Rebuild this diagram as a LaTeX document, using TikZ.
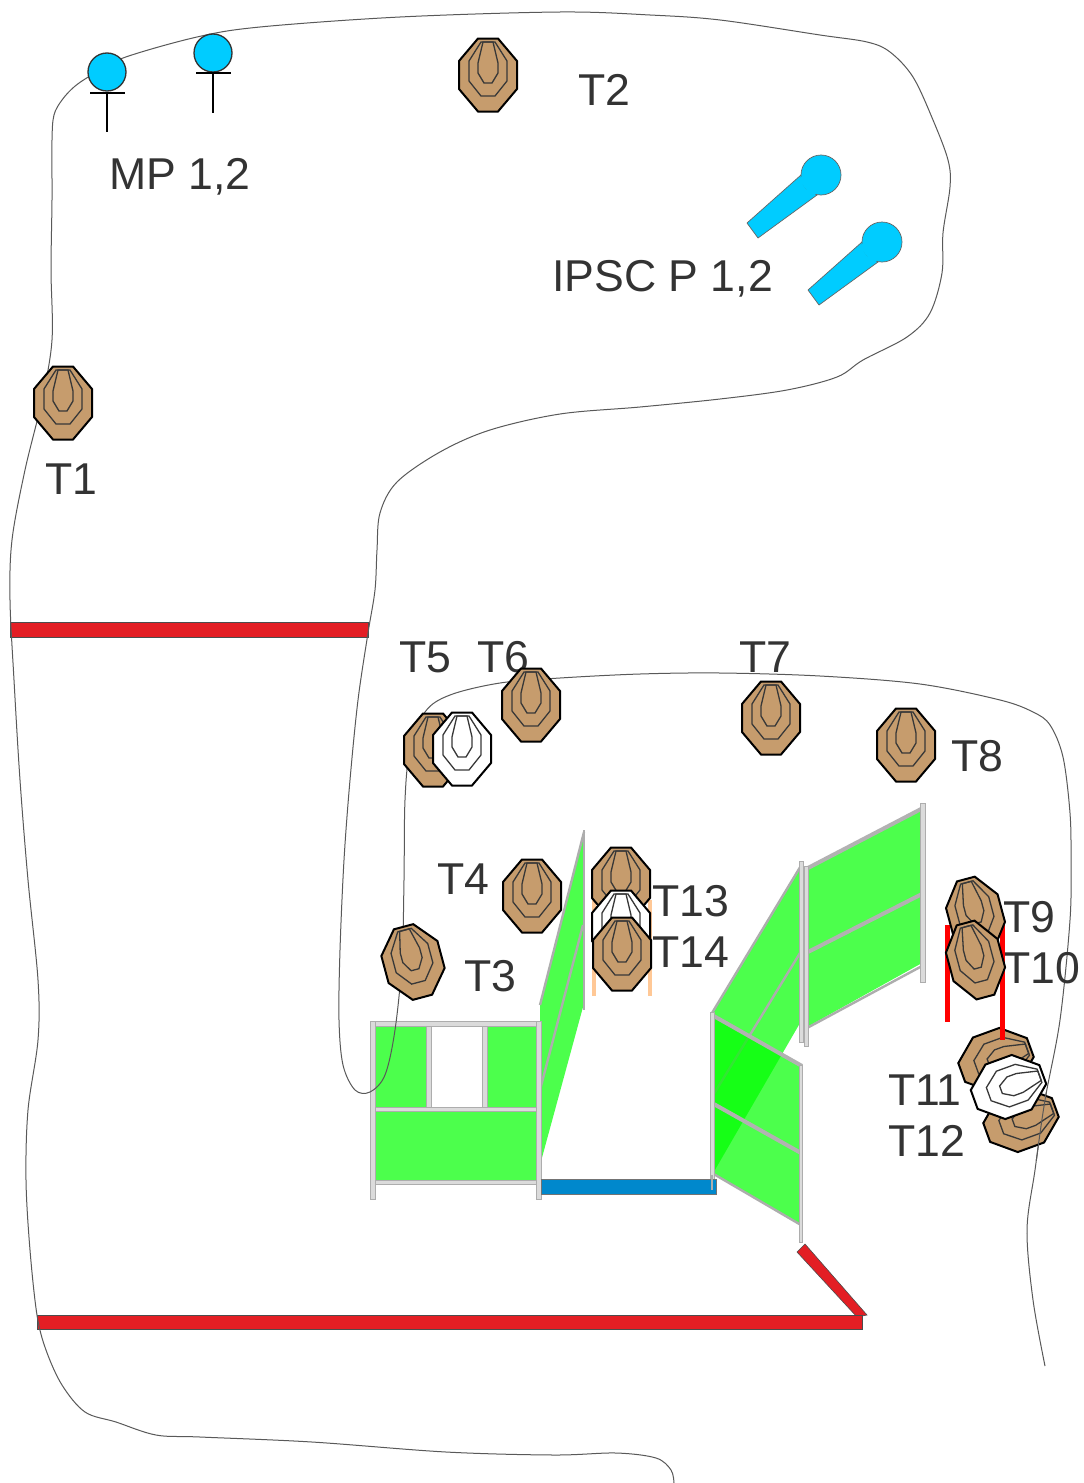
\documentclass[tikz,border=0pt]{standalone}
\usepackage{fontspec}
\setmainfont{Liberation Sans}
\definecolor{tan1}{HTML}{C69C6D}
\definecolor{redbar}{HTML}{E31E24}
\definecolor{bluebar}{HTML}{0088CC}
\definecolor{cyan1}{HTML}{00CCFF}
\definecolor{txt}{HTML}{333333}
\definecolor{peach}{HTML}{FFC896}
\tikzset{
  lbl/.style={anchor=base west,inner sep=0pt,text=txt,font=\fontsize{44.6}{50}\selectfont},
  ground/.style={draw=black!65,line width=1pt},
  bar/.style={fill=redbar,draw=black!70,line width=.6pt},
  panel/.style={fill=green,fill opacity=.7,draw=none},
  rail/.style={draw=black!30,line width=4pt,line cap=butt},
  thin rail/.style={draw=black!32,line width=2.4pt},
  post/.style={fill=black!14,draw=black!32,line width=.8pt},
  outerring/.style={draw=black,line width=2pt},
  innerring/.style={draw=black!78,line width=1.3pt},
  mp/.style={fill=cyan1,draw=black!80,line width=1.3pt},
  stem/.style={draw=black,line width=2pt},
  popperbody/.style={fill=cyan1,draw=black!60,line width=.7pt},
}
\newcommand{\tgt}[5][]{%
  \begin{scope}[shift={(#2,#3)},rotate=#4,#1]
    \filldraw[fill=#5,outerring] (-10,-36.5)--(10,-36.5)--(29,-14)--(29,14)--(10,36.5)--(-10,36.5)--(-29,14)--(-29,-14)--cycle;
    \draw[innerring] (-7,-33)--(7,-33)--(19,-14)--(19,6)--(7,21)--(-7,21)--(-19,6)--(-19,-14)--cycle;
    \draw[innerring] (-5,-33)--(5,-33)--(10,-12)--(10,-2)--(4,8)--(-4,8)--(-10,-2)--(-10,-12)--cycle;
  \end{scope}}
\newcommand{\popper}[2]{%
  \begin{scope}[shift={(#1,#2)}]
    \filldraw[popperbody] (747,223)--(801,175)--(817,195)--(758,238)--cycle;
    \filldraw[popperbody] (821,175) circle (20);
    \fill[cyan1] (802,176)--(799,180)--(812,197)--(816,193.5)--(826,188)--(812,168)--cycle;
  \end{scope}}
\newcommand{\groundEnd}{plot[smooth,tension=.55] coordinates {(1063,757)(1070,813)(1071,860)(1070,920)(1060,1020)(1045,1100)(1035,1170)(1027,1230)(1033,1300)(1045,1366)}}
\begin{document}
\begin{tikzpicture}[x=1pt,y=-1pt]
\useasboundingbox (0,0) rectangle (1084,1483);
\fill[white] (0,0) rectangle (1084,1483);
% far panels
\fill[panel] (540,1005)--(583,838)--(583,1007)--(540,1165)--cycle;
\draw[thin rail] (540,1005)--(584,832);
\draw[thin rail] (540,1090)--(583,925);
\draw[draw=black!32,line width=1.4pt] (584,830)--(584,1010);
\fill[panel] (712,1013)--(800,866)--(800,1023)--(712,1175)--cycle;
\draw[thin rail] (712,1013)--(802,864);
\draw[thin rail] (712,1097)--(800,953);
\fill[panel] (807,868)--(922,808)--(922,963)--(807,1027)--cycle;
\draw[rail] (806,869)--(923,808);
\draw[rail] (806,953)--(922,894);
\draw[thin rail] (807,1028)--(922,966);
\filldraw[post] (799,861) rectangle (803,1042);
\filldraw[post] (804,866) rectangle (808,1046);
\filldraw[post] (920.5,803) rectangle (925,982);
% front right panel
\fill[panel] (712,1013)--(801,1066)--(801,1225)--(712,1173)--cycle;
\draw[rail] (712,1015)--(802,1066);
\draw[rail] (712,1103)--(801,1153);
\draw[thin rail] (712,1173)--(801,1225);
\filldraw[post] (710.5,1012) rectangle (714,1190);
\filldraw[post] (799.5,1065) rectangle (802.5,1242);
% left panel
\fill[panel] (375,1026) rectangle (426,1107);
\fill[panel] (487,1026) rectangle (536,1107);
\fill[panel] (375,1110) rectangle (536,1180);
\filldraw[post] (426,1026) rectangle (431,1107);
\filldraw[post] (482,1026) rectangle (487,1107);
\filldraw[post] (375,1021) rectangle (536,1026);
\filldraw[post] (375,1107) rectangle (536,1111);
\filldraw[post] (375,1180) rectangle (536,1184);
\filldraw[post] (370.5,1021) rectangle (375,1199);
\filldraw[post] (536.5,1021) rectangle (541,1199);
% bars
\filldraw[fill=bluebar,draw=black!55,line width=.6pt] (541,1179) rectangle (716,1194);
\draw[draw=black!32,line width=1.4pt] (712,1175)--(712,1190);
\filldraw[bar] (805,1244)--(797,1252)--(857,1317)--(867,1315)--cycle;
\filldraw[bar] (10,622) rectangle (368,637);
\filldraw[bar] (37,1315) rectangle (862,1329);
% ground line
\draw[ground] plot[smooth,tension=.55] coordinates {(674,1483)(671,1470)(656,1458)(616,1453)(554,1455)(446,1452)(312,1442)(200,1437)(156,1435)(116,1422)(85,1412)(62,1385)(46,1350)(37,1315)(30,1250)(26,1180)(28,1110)(38,1040)(38,980)(28,880)(20,780)(14,680)(10,600)(12,540)(25,470)(42,400)(52,340)(51,270)(52,200)(52,140)(54,115)(62,100)(74,87)(90,76)(123,58)(197,37)(260,27)(400,17)(560,12)(650,15)(720,20)(820,35)(867,42)(890,52)(913,77)(933,120)(948,160)(950,187)(943,233)(942,273)(930,313)(907,337)(863,360)(837,377)(787,390)(720,399)(640,407)(560,414)(490,430)(440,452)(397,482)(380,513)(377,550)(375,590)(368,633)(358,700)(350,780)(344,860)(340,950)(339,1020)(343,1065)(355,1090)(370,1092)(385,1075)(395,1030)(402,960)(404,880)(405,800)(410,750)(425,712)(450,695)(500,683)(560,678)(640,674)(720,673)(820,676)(920,684)(1000,700)(1033,712)(1050,725)(1063,757)(1070,813)(1071,860)(1070,920)(1060,1020)(1045,1100)(1035,1170)(1027,1230)(1033,1300)(1045,1366)};
% labels
\node[lbl] (t2) at (578,105.5) {T2};
\node[lbl] (mp) at (109,189.5) {MP 1,2};
\node[lbl] (ipsc) at (552,291.5) {IPSC P 1,2};
\node[lbl] (t1) at (45,494.5) {T1};
\node[lbl] (t5) at (399,672.5) {T5};
\node[lbl] (t6) at (477,672.5) {T6};
\node[lbl] (t7) at (739,672.5) {T7};
\node[lbl] (t8) at (951,771) {T8};
\node[lbl] (t4) at (437,894.5) {T4};
\node[lbl] (t3) at (464,991) {T3};
\node[lbl] (t13) at (652,916) {T13};
\node[lbl] (t14) at (652,967) {T14};
\node[lbl] (t9) at (1003,932) {T9};
\node[lbl] (t10) at (1003,983) {T10};
\node[lbl] (t11) at (888,1105.5) {T11};
\node[lbl] (t12) at (888,1156) {T12};
% metal plates
\filldraw[mp] (107,72) circle (19);
\filldraw[mp] (213,53) circle (19);
\draw[stem] (90,93)--(125,93) (107,93)--(107,132);
\draw[stem] (196,73)--(231,73) (213,73)--(213,113);
% poppers
\popper{0}{0}
\popper{61}{67}
% legs
\fill[peach] (592,900) rectangle (596,996);
\fill[peach] (648,900) rectangle (652,996);
\fill[red] (945,925) rectangle (950,1022);
\fill[red] (1000,920) rectangle (1005,1000);
% targets
\tgt{63}{403}{0}{tan1}
\tgt{488}{75}{0}{tan1}
\tgt{531}{705}{0}{tan1}
\tgt{433}{750}{0}{tan1}
\tgt{462}{749}{0}{white}
\tgt{771}{718}{0}{tan1}
\tgt{906}{745}{0}{tan1}
\tgt{532}{896}{0}{tan1}
\tgt{413}{962}{15}{tan1}
\tgt{621}{884}{0}{tan1}
\tgt{621}{927}{0}{white}
\tgt{622}{954}{0}{tan1}
\tgt[xscale=.92,yscale=1.02]{975.5}{915}{15}{tan1}
\tgt[xscale=.92,yscale=1.05]{975.5}{960}{15}{tan1}
\tgt{996}{1060}{-70}{tan1}
\fill[red] (1000,995) rectangle (1005,1040);
\tgt{1021}{1120}{-70}{tan1}
\begin{scope}
\clip (1025,1092) rectangle (1065,1160);
\draw[ground] \groundEnd;
\end{scope}
\tgt{1008.5}{1087}{-70}{white}
\end{tikzpicture}
\end{document}
